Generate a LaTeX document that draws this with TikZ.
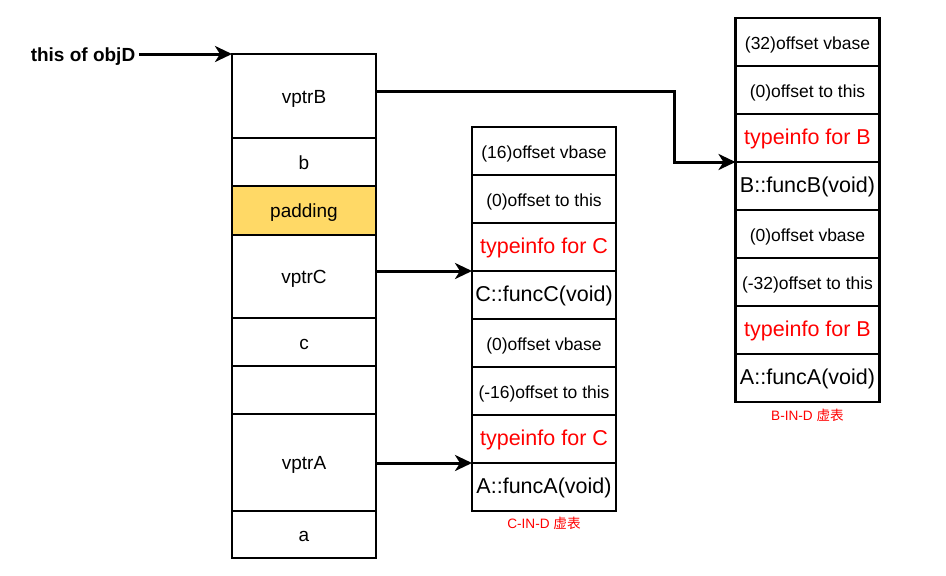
\documentclass[tikz,border=0pt]{standalone}
\usepackage{fontspec}
\setmainfont{Liberation Sans}
\newfontfamily\cjk{Noto Sans CJK SC}
\usetikzlibrary{positioning,arrows.meta}
\definecolor{padyellow}{HTML}{FFD966}
\tikzset{
 cell/.style={draw,line width=2.2pt,minimum width=144pt,inner sep=0pt,outer sep=0pt,anchor=north,text height=14pt,text depth=0pt},
 slot/.style={cell,font=\fontsize{19}{22}\selectfont},
 vrow/.style={cell,minimum height=48pt,font=\fontsize{17.5}{20}\selectfont},
 vtype/.style={vrow,text=red,font=\fontsize{21.5}{25}\selectfont,text height=13pt},
 vfunc/.style={vrow,font=\fontsize{21.5}{25}\selectfont,text height=13pt},
 ptr/.style={line width=3pt,-{Stealth[length=17pt,width=16pt,inset=5pt]}},
 tlabel/.style={text=red,font=\fontsize{13.6}{16}\selectfont}
}
\begin{document}
\begin{tikzpicture}[x=1pt,y=-1pt]
\useasboundingbox (0,0) rectangle (946,576);
%object D
\node[slot,minimum height=84pt] (vptrB) at (304,54) {vptrB};
\node[slot,minimum height=48pt,below=0pt of vptrB] (b) {b};
\node[slot,minimum height=49pt,fill=padyellow,below=0pt of b] (pad) {padding};
\node[slot,minimum height=83pt,below=0pt of pad] (vptrC) {vptrC};
\node[slot,minimum height=48pt,below=0pt of vptrC] (c) {c};
\node[slot,minimum height=48pt,below=0pt of c] (gap) {};
\node[slot,minimum height=97pt,below=0pt of gap] (vptrA) {vptrA};
\node[slot,minimum height=47pt,below=0pt of vptrA] (a) {a};
\node[font=\bfseries\fontsize{19}{22}\selectfont,text height=14pt,text depth=0pt] (this) at (83,54) {this of objD};
%vtable C-in-D
\node[vrow] (Cvb1) at (544,127) {(16)offset vbase};
\node[vrow,below=0pt of Cvb1] (Cot1) {(0)offset to this};
\node[vtype,below=0pt of Cot1] (Cti1) {typeinfo for C};
\node[vfunc,below=0pt of Cti1] (Cfc) {C::funcC(void)};
\node[vrow,below=0pt of Cfc] (Cvb2) {(0)offset vbase};
\node[vrow,below=0pt of Cvb2] (Cot2) {(-16)offset to this};
\node[vtype,below=0pt of Cot2] (Cti2) {typeinfo for C};
\node[vfunc,below=0pt of Cti2] (Cfa) {A::funcA(void)};
\node[tlabel] (Clabel) at (544,523) {C-IN-D {\cjk 虚表}};
%vtable B-in-D
\node[vrow] (Bvb1) at (807.5,18) {(32)offset vbase};
\node[vrow,below=0pt of Bvb1] (Bot1) {(0)offset to this};
\node[vtype,below=0pt of Bot1] (Bti1) {typeinfo for B};
\node[vfunc,below=0pt of Bti1] (Bfb) {B::funcB(void)};
\node[vrow,below=0pt of Bfb] (Bvb2) {(0)offset vbase};
\node[vrow,below=0pt of Bvb2] (Bot2) {(-32)offset to this};
\node[vtype,below=0pt of Bot2] (Bti2) {typeinfo for B};
\node[vfunc,below=0pt of Bti2] (Bfa) {A::funcA(void)};
\node[tlabel] (Blabel) at (807.5,415) {B-IN-D {\cjk 虚表}};
%pointers
\draw[ptr] (this.east) -- (vptrB.north west);
\draw[ptr] ([yshift=5pt]vptrB.east) -| ([xshift=-61pt]Bfb.north west) -- (Bfb.north west);
\draw[ptr] (vptrC.east |- Cfc.north) -- (Cfc.north west);
\draw[ptr] (vptrA.east |- Cfa.north) -- (Cfa.north west);
\end{tikzpicture}
\end{document}
